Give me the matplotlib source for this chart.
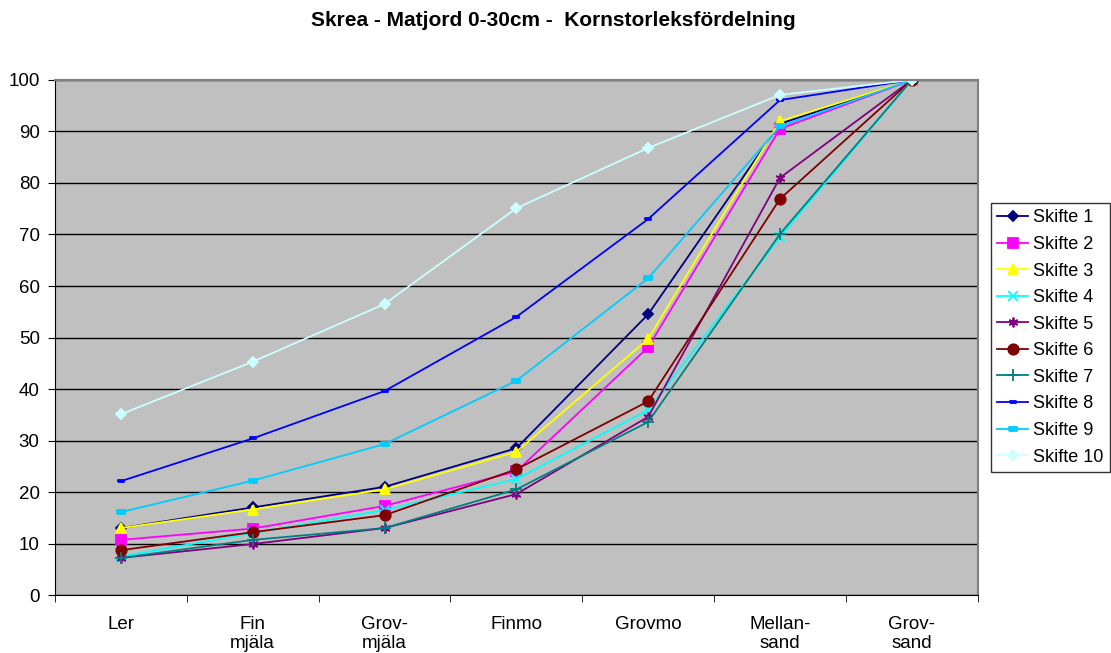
import matplotlib.pyplot as plt
import numpy as np

plt.rcParams['font.family'] = ['Liberation Sans', 'DejaVu Sans']

categories = ['Ler', 'Fin\nmjäla', 'Grov-\nmjäla', 'Finmo', 'Grovmo', 'Mellan-\nsand', 'Grov-\nsand']
names = ['Skifte %d' % i for i in range(1, 11)]

skifte1 = [13.0, 17.0, 21.0, 28.5, 54.5, 91.5, 100]
skifte2 = [10.7, 12.9, 17.3, 24.0, 48.1, 90.5, 100]
skifte3 = [13.0, 16.6, 20.5, 27.8, 49.7, 92.0, 100]
skifte4 = [7.5, 12.0, 16.5, 22.5, 35.9, 69.5, 100]
skifte5 = [7.2, 9.9, 13.0, 19.6, 34.6, 81.0, 100]
skifte6 = [8.7, 12.2, 15.5, 24.4, 37.6, 76.9, 100]
skifte7 = [7.2, 10.7, 13.0, 20.5, 33.6, 70.1, 100]
skifte8 = [22.1, 30.4, 39.6, 54.0, 73.0, 96.1, 100]
skifte9 = [16.1, 22.2, 29.3, 41.6, 61.5, 91.0, 100]
skifte10 = [35.1, 45.3, 56.5, 75.1, 86.8, 97.1, 100]

series = [skifte1, skifte2, skifte3, skifte4, skifte5,
          skifte6, skifte7, skifte8, skifte9, skifte10]

colors = ['#000080', '#FF00FF', '#FFFF00', '#00FFFF', '#800080',
          '#800000', '#008080', '#0000FF', '#00CCFF', '#CCFFFF']

short_bar = [(-1, -0.4), (1, -0.4), (1, 0.4), (-1, 0.4), (-1, -0.4)]
markers = ['D', 's', '^', 'x', (6, 2, 0), 'o', '+', short_bar, short_bar, 'D']
sizes = [5, 6.5, 7, 6.5, 7, 7.5, 8, 4, 6, 5.5]

fig = plt.figure(figsize=(11.11, 6.53), dpi=100)
ax = fig.add_axes([0.0495, 0.0888, 0.8305, 0.7887])
ax.set_facecolor('#C0C0C0')

x = np.arange(len(categories))
for vals, name, c, m, s in zip(series, names, colors, markers, sizes):
    ax.plot(x, vals, color=c, lw=1.3, marker=m, ms=s, mfc=c, mec=c,
            mew=1.3, label=name)

ax.set_xlim(-0.5, len(categories) - 0.5)
ax.set_ylim(0, 100)
ax.set_yticks(range(0, 101, 10))
ax.yaxis.grid(True, color='black', lw=1)
ax.set_axisbelow(True)

ax.set_xticks(x)
ax.set_xticklabels(categories, fontsize=13.5, linespacing=1.2, va='top')
ax.set_xticks(np.arange(-0.5, len(categories), 1), minor=True)
ax.tick_params(axis='x', which='major', length=0, pad=15)
ax.tick_params(axis='x', which='minor', length=5, color='black')
ax.tick_params(axis='y', length=5, labelsize=13.5, pad=6)

for side in ['top', 'right']:
    ax.spines[side].set_color('#808080')
    ax.spines[side].set_linewidth(1.5)
ax.spines['left'].set_color('black')
ax.spines['bottom'].set_color('black')

fig.text(0.498, 0.969, 'Skrea - Matjord 0-30cm -  Kornstorleksfördelning',
         ha='center', va='center', fontsize=15, fontweight='bold')

leg = fig.legend(loc='upper left', bbox_to_anchor=(0.892, 0.689),
                 fontsize=13, frameon=True, fancybox=False,
                 edgecolor='black', borderpad=0.35, labelspacing=0.53,
                 handlelength=1.7, handletextpad=0.28, borderaxespad=0)
leg.get_frame().set_linewidth(1)

plt.savefig('out.png', dpi=100)
